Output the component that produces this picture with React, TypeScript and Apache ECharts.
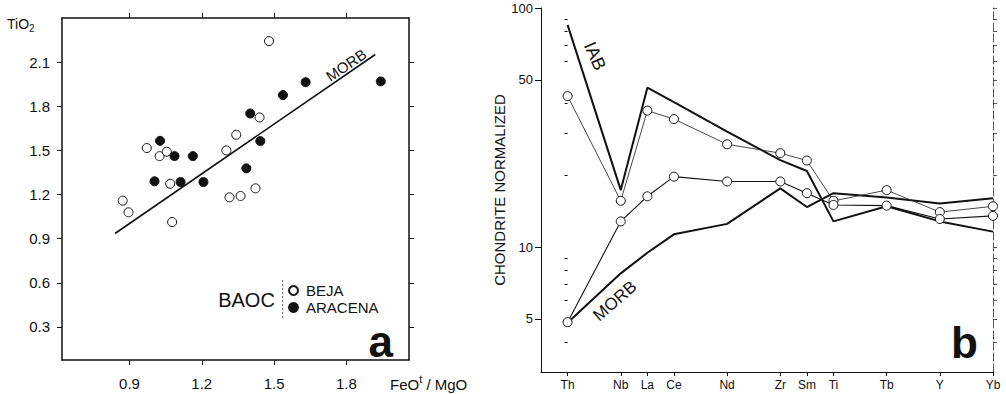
import React, { useEffect, useRef } from "react";
import * as echarts from "echarts";

// ---------- Panel a: TiO2 vs FeOt/MgO ----------
const BEJA: [number, number][] = [
  [1.479, 2.243], [1.44, 1.724], [1.343, 1.606], [1.302, 1.5], [0.972, 1.516],
  [1.025, 1.461], [1.055, 1.491], [1.069, 1.273], [1.315, 1.181], [1.361, 1.19],
  [1.423, 1.242], [0.872, 1.158], [0.896, 1.079], [1.077, 1.013],
];
const ARACENA: [number, number][] = [
  [1.631, 1.964], [1.943, 1.969], [1.537, 1.876], [1.401, 1.751], [1.443, 1.563],
  [1.027, 1.565], [1.087, 1.461], [1.163, 1.461], [1.385, 1.378], [1.004, 1.29],
  [1.112, 1.285], [1.207, 1.285],
];
const MORB_TREND: [number, number][] = [[0.84, 0.935], [1.92, 2.152]];
const X_TICKS_A = [0.9, 1.2, 1.5, 1.8];
const Y_TICKS_A = [0.3, 0.6, 0.9, 1.2, 1.5, 1.8, 2.1];

// ---------- Panel b: chondrite-normalized spidergram ----------
const ELEMENTS = ["Th", "Nb", "La", "Ce", "Nd", "Zr", "Sm", "Ti", "Tb", "Y", "Yb"];
const ELEMENT_SLOT = [0, 2, 3, 4, 6, 8, 9, 10, 12, 14, 16];
const IAB = [85, 17.3, 46.4, 40.4, 30.4, 23.1, 20.8, 12.8, 14.8, 12.8, 11.6];
const MORB = [4.82, 7.76, 9.46, 11.3, 12.5, 17.6, 14.7, 16.8, 16.1, 15.2, 16.0];
const SAMPLE_1 = [42.8, 15.6, 37.2, 34.3, 26.9, 24.7, 23.0, 15.6, 17.3, 14.0, 14.8];
const SAMPLE_2 = [4.85, 12.8, 16.3, 19.7, 18.8, 18.8, 16.8, 15.0, 14.9, 13.1, 13.5];
const Y_LABELS_B = [5, 10, 50, 100];
const Y_MINOR_B = [4, 6, 7, 8, 9, 20, 30, 40, 60, 70, 80, 90];

const FONT = '"Liberation Sans", Arial, sans-serif';
const INK = "#111";

const toXY = (vals: number[]) => ELEMENT_SLOT.map((x, i) => [x, vals[i]]);

export default function App() {
  const ref = useRef<HTMLDivElement>(null);

  useEffect(() => {
    const chart = echarts.init(ref.current!, null, { renderer: "svg" });

    const boxLine = { show: true, onZero: false, lineStyle: { color: INK, width: 1.5 } };
    const tickStyle = { color: INK, width: 1 };

    const option: any = {
      animation: false,
      backgroundColor: "#fff",
      textStyle: { fontFamily: FONT, color: INK },
      grid: [
        { left: 62, top: 18, width: 347, height: 342, outerBoundsMode: "none" },
        { left: 541, top: 8, width: 452, height: 364, outerBoundsMode: "none" },
      ],
      legend: {
        data: ["BEJA", "ARACENA"],
        orient: "vertical",
        left: 288,
        top: 283,
        padding: 0,
        itemWidth: 9,
        itemHeight: 9,
        itemGap: 2,
        icon: "circle",
        textStyle: { fontSize: 15, fontFamily: FONT, color: INK, lineHeight: 15, padding: [0, 0, 0, 3] },
      },
      xAxis: [
        {
          gridIndex: 0, type: "value", position: "bottom", min: 0.62, max: 2.06,
          axisLine: boxLine,
          axisTick: { show: true, inside: false, length: 5, customValues: X_TICKS_A, lineStyle: tickStyle },
          axisLabel: {
            customValues: X_TICKS_A, formatter: (v: number) => v.toFixed(1),
            fontSize: 15, fontFamily: FONT, color: INK, margin: 16,
          },
          splitLine: { show: false },
        },
        {
          gridIndex: 0, type: "value", position: "top", min: 0.62, max: 2.06,
          axisLine: boxLine,
          axisTick: { show: true, inside: false, length: 5, customValues: X_TICKS_A, lineStyle: tickStyle },
          axisLabel: { show: false },
          splitLine: { show: false },
        },
        {
          gridIndex: 1, type: "value", position: "bottom", min: -1, max: 16,
          axisLine: { show: true, onZero: false, lineStyle: { color: INK, width: 1 } },
          axisTick: { show: true, inside: false, length: 4, customValues: ELEMENT_SLOT, lineStyle: tickStyle },
          axisLabel: {
            customValues: ELEMENT_SLOT,
            formatter: (v: number) => ELEMENTS[ELEMENT_SLOT.indexOf(Math.round(v))] ?? "",
            fontSize: 12, fontFamily: FONT, color: INK, margin: 7,
          },
          splitLine: { show: false },
        },
      ],
      yAxis: [
        {
          gridIndex: 0, type: "value", position: "left", min: 0.075, max: 2.4,
          axisLine: boxLine,
          axisTick: { show: true, inside: false, length: 5, customValues: Y_TICKS_A, lineStyle: tickStyle },
          axisLabel: {
            customValues: Y_TICKS_A, formatter: (v: number) => v.toFixed(1),
            fontSize: 15, fontFamily: FONT, color: INK, margin: 12,
          },
          splitLine: { show: false },
        },
        {
          gridIndex: 0, type: "value", position: "right", min: 0.075, max: 2.4,
          axisLine: boxLine,
          axisTick: { show: true, inside: false, length: 5, customValues: Y_TICKS_A, lineStyle: tickStyle },
          axisLabel: { show: false },
          splitLine: { show: false },
        },
        {
          gridIndex: 1, type: "log", logBase: 10, position: "left", min: 3, max: 100,
          name: "CHONDRITE NORMALIZED", nameLocation: "middle", nameGap: 32,
          nameTextStyle: { fontSize: 15, fontFamily: FONT, color: INK },
          axisLine: { show: true, onZero: false, lineStyle: { color: INK, width: 1 } },
          axisTick: { show: true, inside: false, length: 6, customValues: Y_LABELS_B, lineStyle: tickStyle },
          axisLabel: {
            customValues: Y_LABELS_B, formatter: (v: number) => String(Math.round(v)),
            fontSize: 13, fontFamily: FONT, color: INK, margin: 8,
          },
          splitLine: { show: false },
          minorTick: { show: false },
        },
        {
          gridIndex: 1, type: "log", logBase: 10, position: "left", min: 3, max: 100,
          axisLine: { show: false },
          axisTick: { show: true, inside: false, length: 3, customValues: Y_MINOR_B, lineStyle: tickStyle },
          axisLabel: { show: false },
          splitLine: { show: false },
        },
        {
          gridIndex: 1, type: "log", logBase: 10, position: "right", min: 3, max: 100,
          axisLine: { show: true, onZero: false, lineStyle: { color: "#555", width: 1, type: [8, 3] } },
          axisTick: {
            show: true, inside: false, length: 4,
            customValues: [...Y_MINOR_B, ...Y_LABELS_B].sort((a, b) => a - b),
            lineStyle: { color: "#555", width: 1 },
          },
          axisLabel: { show: false },
          splitLine: { show: false },
        },
      ],
      series: [
        {
          name: "MORB trend", type: "line", xAxisIndex: 0, yAxisIndex: 0,
          data: MORB_TREND, symbol: "none", lineStyle: { color: INK, width: 1.6 }, z: 2,
        },
        {
          name: "BEJA", type: "scatter", xAxisIndex: 0, yAxisIndex: 0, data: BEJA,
          symbol: "circle", symbolSize: 9,
          itemStyle: { color: "#fff", borderColor: INK, borderWidth: 1, opacity: 1 }, z: 3,
        },
        {
          name: "ARACENA", type: "scatter", xAxisIndex: 0, yAxisIndex: 0, data: ARACENA,
          symbol: "circle", symbolSize: 9,
          itemStyle: { color: INK, borderColor: INK, borderWidth: 1, opacity: 1 }, z: 3,
        },
        {
          name: "IAB", type: "line", xAxisIndex: 2, yAxisIndex: 2, data: toXY(IAB),
          symbol: "none", lineStyle: { color: INK, width: 2 }, z: 2,
        },
        {
          name: "MORB", type: "line", xAxisIndex: 2, yAxisIndex: 2, data: toXY(MORB),
          symbol: "none", lineStyle: { color: INK, width: 2 }, z: 2,
        },
        {
          name: "BAOC sample 1", type: "line", xAxisIndex: 2, yAxisIndex: 2, data: toXY(SAMPLE_1),
          symbol: "circle", symbolSize: 9, showSymbol: true,
          lineStyle: { color: "#333", width: 0.9 },
          itemStyle: { color: "#fff", borderColor: INK, borderWidth: 1, opacity: 1 }, z: 3,
        },
        {
          name: "BAOC sample 2", type: "line", xAxisIndex: 2, yAxisIndex: 2, data: toXY(SAMPLE_2),
          symbol: "circle", symbolSize: 9, showSymbol: true,
          lineStyle: { color: INK, width: 1.1 },
          itemStyle: { color: "#fff", borderColor: INK, borderWidth: 1, opacity: 1 }, z: 3,
        },
      ],
      graphic: [
        {
          type: "text", left: 7, top: 17,
          style: {
            text: "TiO{s|2}", fontSize: 14, fontFamily: FONT, fill: INK,
            rich: { s: { fontSize: 10, fontFamily: FONT, fill: INK, padding: [8, 0, 0, 0] } },
          },
        },
        {
          type: "text", x: 390, y: 384,
          style: {
            text: "FeO{t|t} / MgO", fontSize: 15, fontFamily: FONT, fill: INK,
            verticalAlign: "middle",
            rich: { t: { fontSize: 11, fontFamily: FONT, fill: INK, padding: [0, 0, 10, 0] } },
          },
        },
        {
          type: "text", x: 346, y: 65, rotation: (34 * Math.PI) / 180,
          style: { text: "MORB", fontSize: 15, fontFamily: FONT, fill: INK, align: "center", verticalAlign: "middle" },
        },
        {
          type: "text", x: 246.5, y: 300,
          style: { text: "BAOC", fontSize: 20, fontFamily: FONT, fill: INK, align: "center", verticalAlign: "middle" },
        },
        {
          type: "line", shape: { x1: 282.7, y1: 280, x2: 282.7, y2: 320 },
          style: { stroke: "#666", lineWidth: 1, lineDash: [2, 2] },
        },
        {
          type: "text", x: 393, y: 341,
          style: { text: "a", fontSize: 44, fontWeight: "bold", fontFamily: FONT, fill: INK, align: "right", verticalAlign: "middle" },
        },
        {
          type: "text", x: 978, y: 342,
          style: { text: "b", fontSize: 44, fontWeight: "bold", fontFamily: FONT, fill: INK, align: "right", verticalAlign: "middle" },
        },
        {
          type: "text", x: 595, y: 56, rotation: (-66 * Math.PI) / 180,
          style: { text: "IAB", fontSize: 18, fontFamily: FONT, fill: INK, align: "center", verticalAlign: "middle" },
        },
        {
          type: "text", x: 615, y: 301, rotation: (41 * Math.PI) / 180,
          style: { text: "MORB", fontSize: 17, fontFamily: FONT, fill: INK, align: "center", verticalAlign: "middle" },
        },
      ],
    };

    chart.setOption(option);
    return () => chart.dispose();
  }, []);

  return (
    <div
      ref={ref}
      style={{ position: "absolute", left: 0, top: 0, width: 1006, height: 394, background: "#fff" }}
    />
  );
}
